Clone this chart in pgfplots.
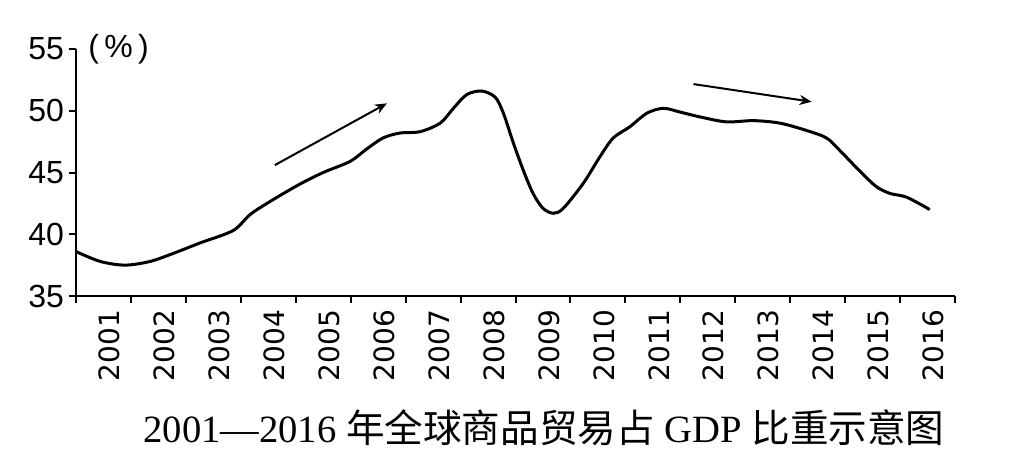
\documentclass[border=0pt]{standalone}
\usepackage{fontspec}
\setmainfont{Liberation Serif}
\newfontfamily\cjk{Noto Sans CJK SC}
\newfontfamily\yfont{Liberation Sans}
\newfontfamily\xfont{DejaVu Sans}
\usepackage{pgfplots}
\pgfplotsset{compat=1.18}
\usetikzlibrary{arrows.meta}
\begin{document}
\begin{tikzpicture}
\useasboundingbox (-38pt,-88pt) rectangle (475pt,148pt);
\begin{axis}[
  at={(0,0)}, anchor=south west,
  width=439.5pt, height=123.5pt, scale only axis,
  xmin=0, xmax=16, ymin=35, ymax=55,
  axis lines*=left,
  axis line style={line width=1pt},
  clip=false,
  /pgf/number format/assume math mode=true,
  ytick={35,40,45,50,55},
  yticklabel style={font=\yfont\fontsize{16}{16}\selectfont, xshift=1pt},
  xtick={0.5,1.5,...,15.5},
  xticklabels={2001,2002,2003,2004,2005,2006,2007,2008,2009,2010,2011,2012,2013,2014,2015,2016},
  minor xtick={0,1,...,16},
  tick align=outside,
  major tick length=3.5pt,
  minor tick length=3.5pt,
  tick style={line width=1pt, black},
  major x tick style={draw=none},
  xticklabel style={rotate=90, anchor=east, yshift=-3pt, font=\xfont\fontsize{14}{14}\selectfont},
]
\addplot[black, line width=1.5pt, smooth, tension=0.5] coordinates {
(0,38.6) (0.44,37.8) (0.89,37.5) (1.35,37.8) (1.8,38.5) (2.26,39.3) (2.86,40.3)
(3.17,41.6) (3.55,42.7) (4.05,44.0) (4.5,45.0) (4.99,45.9) (5.29,46.9) (5.59,47.8)
(5.9,48.2) (6.26,48.3) (6.63,49.0) (6.87,50.2) (7.11,51.3) (7.38,51.6) (7.63,51.1)
(7.78,49.8) (7.96,47.4) (8.14,45.2) (8.32,43.3) (8.5,42.1) (8.69,41.7) (8.87,42.1)
(9.23,44.1) (9.54,46.3) (9.78,47.8) (10.08,48.7) (10.39,49.8) (10.69,50.2) (10.99,49.9)
(11.36,49.5) (11.84,49.1) (12.33,49.2) (12.81,49.0) (13.3,48.4) (13.66,47.8) (13.9,46.8)
(14.27,45.1) (14.57,43.85) (14.82,43.3) (15.12,43.0) (15.54,42.0)
};
\draw[line width=1pt, -{Stealth[length=6pt,width=5pt]}] (axis cs:3.62,45.6) -- (axis cs:5.66,50.6);
\draw[line width=1pt, -{Stealth[length=6pt,width=5pt]}] (axis cs:11.24,52.16) -- (axis cs:13.39,50.73);
\node[anchor=west, font=\yfont\fontsize{16}{16}\selectfont] at (axis cs:0,55) {\,(\,\%\,)};
\end{axis}
\node[font=\fontsize{19.3}{19.3}\selectfont] at (234pt,-66pt) {2001—2016 {\cjk 年全球商品贸易占} GDP {\cjk 比重示意图}};
\end{tikzpicture}
\end{document}
